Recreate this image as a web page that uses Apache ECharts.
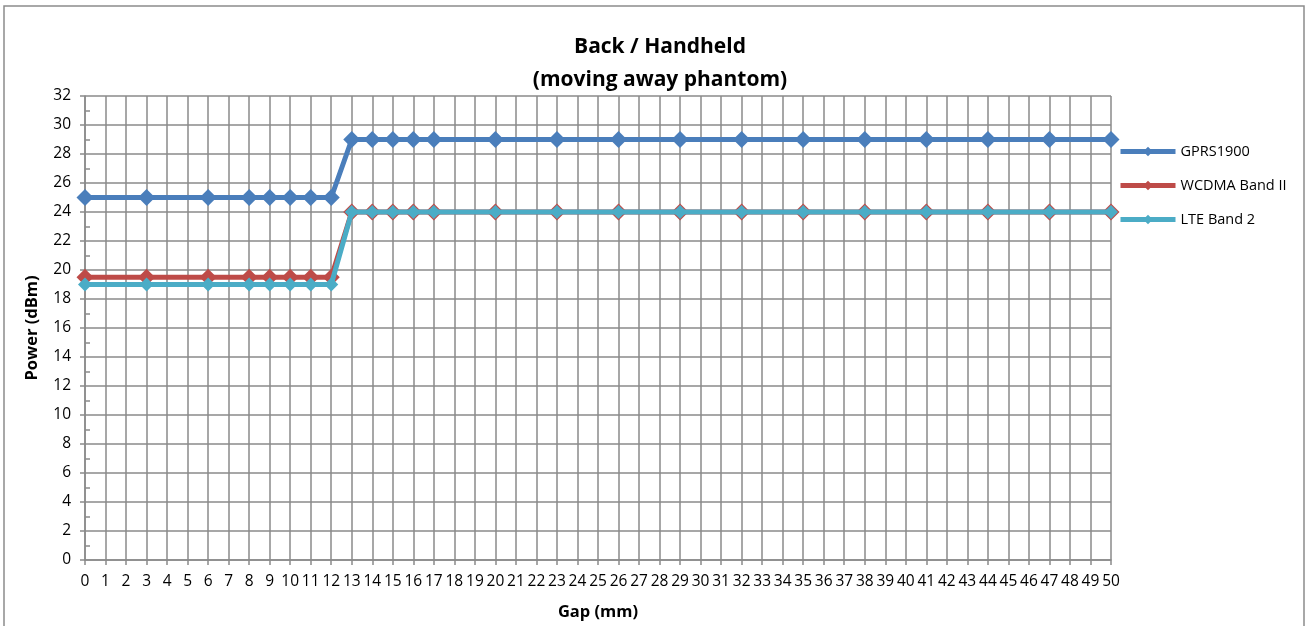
<!DOCTYPE html>
<html><head><meta charset="utf-8">
<script src="https://cdn.jsdelivr.net/npm/echarts@6/dist/echarts.min.js"></script>
<style>html,body{margin:0;padding:0;background:#fff}#c{width:1307px;height:626px}</style>
</head><body><div id="c"></div>
<script>
const gaps = [0,3,6,8,9,10,11,12,13,14,15,16,17,20,23,26,29,32,35,38,41,44,47,50];
const gprs1900 = [25,25,25,25,25,25,25,25,29,29,29,29,29,29,29,29,29,29,29,29,29,29,29,29];
const wcdmaBand2 = [19.5,19.5,19.5,19.5,19.5,19.5,19.5,19.5,24,24,24,24,24,24,24,24,24,24,24,24,24,24,24,24];
const lteBand2 = [19,19,19,19,19,19,19,19,24,24,24,24,24,24,24,24,24,24,24,24,24,24,24,24];
const seriesNames = ['GPRS1900','WCDMA Band II','LTE Band 2'];
const titleLines = ['Back / Handheld','(moving away phantom)'];

const font = '"Open Sans", Lato, sans-serif';
const gridColor = '#8a8a8a';
const pair = (xs, ys) => xs.map((x,i)=>[x, ys[i]]);

const chart = echarts.init(document.getElementById('c'));
chart.setOption({
  animation:false,
  backgroundColor:'#fff',
  graphic:[{type:'rect',shape:{x:4,y:6,width:1300,height:640},style:{fill:'none',stroke:'#8c8c8c',lineWidth:1.5},z:-1}],
  title:{text:titleLines.join('\n'),left:655,textAlign:'center',top:26,
    textStyle:{fontFamily:font,fontSize:21,fontWeight:'bold',color:'#000',lineHeight:33}},
  grid:{left:85,right:196,top:96,bottom:65},
  legend:{orient:'vertical',left:1118,top:144,padding:0,itemWidth:55,itemHeight:12,itemGap:19,
    lineStyle:{width:5},
    data:seriesNames,textStyle:{fontFamily:font,fontSize:14.5,color:'#000'}},
  xAxis:{type:'value',min:0,max:50,interval:1,
    name:'Gap (mm)',nameLocation:'middle',nameGap:44,
    nameTextStyle:{fontFamily:font,fontSize:16.5,fontWeight:'bold',color:'#000'},
    axisLine:{lineStyle:{color:gridColor,width:1.5}},
    axisTick:{show:true,length:5,lineStyle:{color:gridColor,width:1.5}},
    axisLabel:{fontFamily:font,fontSize:15.5,color:'#000',margin:14,hideOverlap:false},
    splitLine:{show:true,lineStyle:{color:gridColor,width:1.5}}},
  yAxis:[{type:'value',min:0,max:32,interval:2,
    name:'Power (dBm)',nameLocation:'middle',nameGap:44,
    nameTextStyle:{fontFamily:font,fontSize:16.5,fontWeight:'bold',color:'#000'},
    axisLine:{show:true,lineStyle:{color:gridColor,width:1.5}},
    axisTick:{show:true,length:5,lineStyle:{color:gridColor,width:1.5}},
    axisLabel:{fontFamily:font,fontSize:15.5,color:'#000',margin:14},
    splitLine:{show:true,lineStyle:{color:gridColor,width:1.5}}},
   {type:'value',min:0,max:32,interval:2,position:'left',
    axisLine:{show:false},axisLabel:{show:false},splitLine:{show:false},
    axisTick:{show:false,inside:true},
    minorTick:{show:true,splitNumber:2,length:5,lineStyle:{color:gridColor,width:1.5}}}],
  series:[
    {name:seriesNames[0],type:'line',data:pair(gaps,gprs1900),symbol:'diamond',symbolSize:17,
     color:'#4a7ebb',lineStyle:{width:5,color:'#4a7ebb'},itemStyle:{color:'#4a7ebb'},z:3},
    {name:seriesNames[1],type:'line',data:pair(gaps,wcdmaBand2),symbol:'diamond',symbolSize:17,
     color:'#be4b48',lineStyle:{width:5,color:'#be4b48'},itemStyle:{color:'#be4b48'},z:4},
    {name:seriesNames[2],type:'line',data:pair(gaps,lteBand2),symbol:'diamond',symbolSize:14,
     color:'#4bacc6',lineStyle:{width:5,color:'#4bacc6'},itemStyle:{color:'#4bacc6'},z:5}
  ]
});
</script></body></html>
